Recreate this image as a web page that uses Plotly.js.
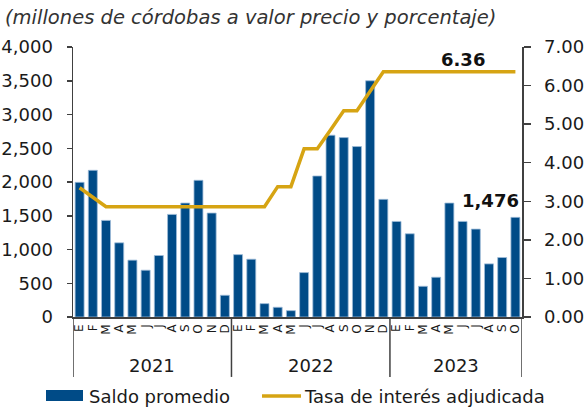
<!DOCTYPE html>
<html>
<head>
<meta charset="utf-8">
<script src="https://cdn.plot.ly/plotly-3.0.1.min.js"></script>
<style>html,body{margin:0;padding:0;background:#fff}#chart{width:585px;height:408px}</style>
</head>
<body>
<div id="chart"></div>
<script>
// Months (Jan 2021 – Oct 2023)
const months = ["E","F","M","A","M","J","J","A","S","O","N","D",
                "E","F","M","A","M","J","J","A","S","O","N","D",
                "E","F","M","A","M","J","J","A","S","O"];
const yearLabels = ["2021","2022","2023"];
const yearCounts = [12,12,10];
// Saldo promedio (millones de córdobas)
const saldo = [1995,2173,1431,1099,842,693,911,1520,1688,2025,1540,322,
               924,856,198,144,94,658,2089,2693,2658,2525,3500,1743,
               1416,1233,455,589,1688,1416,1302,787,881,1476];
// Tasa de interés adjudicada (%)
const tasa = [3.35,3.10,2.86,2.86,2.86,2.86,2.86,2.86,2.86,2.86,2.86,2.86,
              2.86,2.86,2.86,3.38,3.38,4.36,4.36,4.85,5.35,5.35,5.85,6.36,
              6.36,6.36,6.36,6.36,6.36,6.36,6.36,6.36,6.36,6.36];

const xIdx = months.map((_, i) => i);
const font = "DejaVu Sans, Verdana, sans-serif";
const axisCol = "#404040";
const blue = "#004B87";
const gold = "#D6A413";

const traces = [
  {type:"bar", x:xIdx, y:saldo, name:"Saldo promedio",
   marker:{color:blue, line:{color:"#9dbbd8", width:0.8}}, hoverinfo:"y"},
  {type:"scatter", mode:"lines", x:xIdx, y:tasa, yaxis:"y2", name:"Tasa de interés adjudicada",
   line:{color:gold, width:3.5}}
];

// Year labels and dividers
const annotations = [];
const shapes = [];
let start = 0;
shapes.push({type:"line", xref:"x", yref:"paper", x0:-0.5, x1:-0.5, y0:0, y1:-0.222, line:{color:axisCol, width:1.5}});
yearLabels.forEach((yl, k) => {
  const n = yearCounts[k];
  annotations.push({xref:"x", yref:"paper", x:start + (n-1)/2, y:-0.181, text:yl, showarrow:false,
    xanchor:"center", yanchor:"middle", font:{family:font, size:18, color:"#1a1a1a"}});
  start += n;
  shapes.push({type:"line", xref:"x", yref:"paper", x0:start-0.5, x1:start-0.5, y0:0, y1:-0.222, line:{color:axisCol, width:1.5}});
});

// Value labels
const last = saldo.length - 1;
annotations.push({xref:"x", yref:"y2", x:29, y:tasa[last], text:"<b>" + tasa[last].toFixed(2) + "</b>",
  showarrow:false, xanchor:"center", yanchor:"middle", yshift:12, font:{family:font, size:18, color:"#111"}});
annotations.push({xref:"x", yref:"y", x:last + 0.4, y:saldo[last], text:"<b>" + saldo[last].toLocaleString("en-US") + "</b>",
  showarrow:false, xanchor:"right", yanchor:"middle", yshift:17, font:{family:font, size:18, color:"#111"}});

// Custom legend
shapes.push({type:"rect", xref:"paper", yref:"paper", x0:(46-73)/449, x1:(83-73)/449, y0:-(401-317)/270, y1:-(390-317)/270,
  fillcolor:blue, line:{width:0}});
annotations.push({xref:"paper", yref:"paper", x:(87-73)/449, y:-(396-317)/270, text:traces[0].name, showarrow:false,
  xanchor:"left", yanchor:"middle", font:{family:font, size:18, color:"#1a1a1a"}});
shapes.push({type:"line", xref:"paper", yref:"paper", x0:(262-73)/449, x1:(301-73)/449, y0:-(396-317)/270, y1:-(396-317)/270,
  line:{color:gold, width:3.5}});
annotations.push({xref:"paper", yref:"paper", x:(302-73)/449, y:-(396-317)/270, text:traces[1].name, showarrow:false,
  xanchor:"left", yanchor:"middle", font:{family:font, size:18, color:"#1a1a1a"}});

const layout = {
  width:585, height:408,
  margin:{l:73, r:63, t:47, b:91},
  paper_bgcolor:"#fff", plot_bgcolor:"#fff",
  showlegend:false,
  bargap:0.32,
  title:{text:"(millones de córdobas a valor precio y porcentaje)", x:5/585, xanchor:"left", y:1-17/408, yanchor:"middle",
    font:{family:font, size:19.5, color:"#333", style:"italic"}},
  xaxis:{range:[-0.5, months.length-0.5], tickmode:"array", tickvals:xIdx, ticktext:months, tickangle:-90,
    ticks:"", showline:true, linecolor:axisCol, linewidth:1.5, showgrid:false, zeroline:false,
    tickfont:{family:font, size:12, color:"#1a1a1a"}, ticklabelstandoff:1, fixedrange:true},
  yaxis:{range:[0,4000], dtick:500, tickformat:",d", ticks:"outside", ticklen:5, tickwidth:1.5, tickcolor:axisCol,
    showline:true, linecolor:axisCol, linewidth:1.5, showgrid:false, zeroline:false,
    tickfont:{family:font, size:18, color:"#1a1a1a"}, ticklabelstandoff:10},
  yaxis2:{range:[0,7], dtick:1, tickformat:".2f", overlaying:"y", side:"right", ticks:"outside", ticklen:7, tickwidth:1.5,
    tickcolor:axisCol, showline:true, linecolor:axisCol, linewidth:1.5, showgrid:false, zeroline:false,
    tickfont:{family:font, size:18, color:"#1a1a1a"}, ticklabelstandoff:10},
  annotations:annotations,
  shapes:shapes
};

Plotly.newPlot("chart", traces, layout, {displayModeBar:false, staticPlot:true});
</script>
</body>
</html>
